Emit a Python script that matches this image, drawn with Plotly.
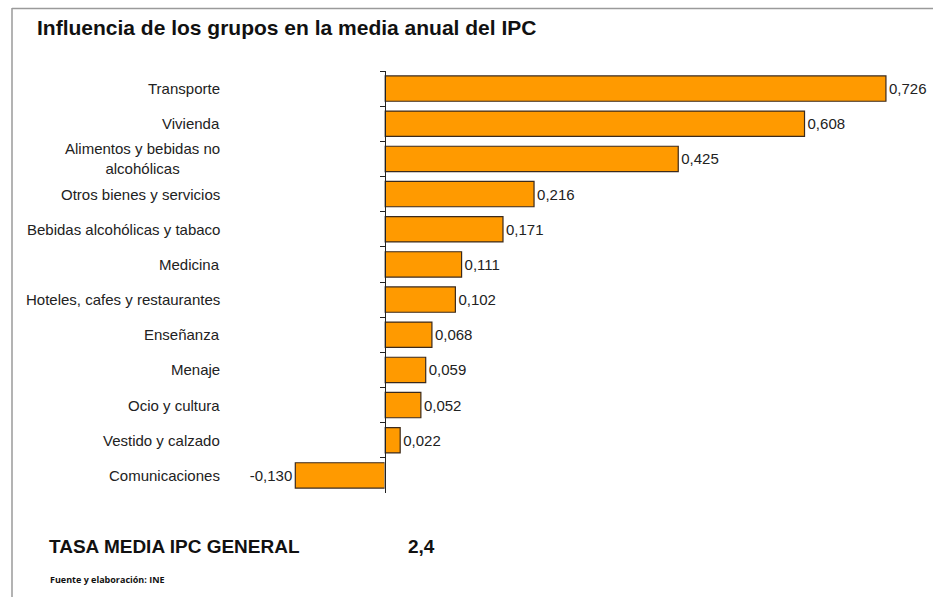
import plotly.graph_objects as go

categories = ["Transporte", "Vivienda", "Alimentos y bebidas no<br>alcohólicas",
              "Otros bienes y servicios", "Bebidas alcohólicas y tabaco", "Medicina",
              "Hoteles, cafes y restaurantes", "Enseñanza", "Menaje", "Ocio y cultura",
              "Vestido y calzado", "Comunicaciones"]
values = [0.726, 0.608, 0.425, 0.216, 0.171, 0.111, 0.102, 0.068, 0.059, 0.052, 0.022, -0.130]
title_text = "Influencia de los grupos en la media anual del IPC"
total_label = "TASA MEDIA IPC GENERAL"
total_value = "2,4"
source_text = "Fuente y elaboración: INE"

labels = [f"{v:.3f}".replace(".", ",") for v in values]

W, H = 933, 597
PL, PR, PT, PB = 230, 925, 71, 493   # plot area in window px
ML, MR, MT, MB = PL, W - PR, PT, H - PB
AXIS_PX = 385
px_per_unit = 690.0
xmin = -(AXIS_PX - PL) / px_per_unit
xmax = (PR - AXIS_PX) / px_per_unit

font_fam = "Liberation Sans, Arial, sans-serif"
orange = "#FF9A00"
edge = "#3b2a1c"


def px2paper_x(px):
    return (px - PL) / (PR - PL)


def py2paper_y(py):
    return (PB - py) / (PB - PT)


fig = go.Figure()
fig.add_trace(go.Bar(
    x=values, y=categories, orientation="h", width=0.72,
    marker=dict(color=orange, line=dict(color=edge, width=1.2)),
    text=labels, textposition="outside", cliponaxis=False,
    textfont=dict(family=font_fam, size=15, color="#222"),
    hoverinfo="skip"))
# invisible trace to drive the zero-axis with ticks
fig.add_trace(go.Bar(x=[0] * len(values), y=categories, orientation="h", yaxis="y2",
                     marker=dict(color="rgba(0,0,0,0)"), hoverinfo="skip", showlegend=False))

annotations = []
for c in categories:
    annotations.append(dict(x=0, xref="paper", y=c, yref="y", text=c, showarrow=False,
                            xanchor="right", align="center", xshift=-8,
                            font=dict(family=font_fam, size=15, color="#222")))

annotations += [
    dict(x=px2paper_x(35), y=py2paper_y(27), xref="paper", yref="paper", text=f"<b>{title_text}</b>",
         showarrow=False, xanchor="left", yanchor="middle",
         font=dict(family=font_fam, size=21, color="#111")),
    dict(x=px2paper_x(47), y=py2paper_y(546), xref="paper", yref="paper", text=f"<b>{total_label}</b>",
         showarrow=False, xanchor="left", yanchor="middle",
         font=dict(family=font_fam, size=19, color="#111")),
    dict(x=px2paper_x(406), y=py2paper_y(546), xref="paper", yref="paper", text=f"<b>{total_value}</b>",
         showarrow=False, xanchor="left", yanchor="middle",
         font=dict(family=font_fam, size=19, color="#111")),
    dict(x=px2paper_x(48), y=py2paper_y(579), xref="paper", yref="paper", text=f"<b>{source_text}</b>",
         showarrow=False, xanchor="left", yanchor="middle",
         font=dict(family="Open Sans, Noto Sans, sans-serif", size=9, color="#111")),
]

shapes = [
    dict(type="line", xref="paper", yref="paper", x0=px2paper_x(12), x1=px2paper_x(12),
         y0=py2paper_y(8), y1=py2paper_y(610), line=dict(color="#9a9a9a", width=1.5)),
    dict(type="line", xref="paper", yref="paper", x0=px2paper_x(12), x1=px2paper_x(950),
         y0=py2paper_y(8.5), y1=py2paper_y(8.5), line=dict(color="#9a9a9a", width=1.5)),
]

fig.update_layout(
    width=W, height=H, margin=dict(l=ML, r=MR, t=MT, b=MB),
    plot_bgcolor="white", paper_bgcolor="white", showlegend=False,
    barmode="overlay",
    xaxis=dict(range=[xmin, xmax], showgrid=False, zeroline=False, showticklabels=False,
               showline=False, ticks=""),
    yaxis=dict(type="category", categoryarray=categories, autorange=False, range=[11.5, -0.5],
               showticklabels=False, showgrid=False, showline=False, ticks=""),
    yaxis2=dict(type="category", categoryarray=categories, autorange=False, range=[11.5, -0.5],
                overlaying="y", anchor="free", side="left", position=px2paper_x(AXIS_PX),
                showticklabels=False, showgrid=False, showline=True, linecolor="#222", linewidth=1.2,
                ticks="outside", tickson="boundaries", ticklen=5, tickcolor="#222", tickwidth=1.2),
    annotations=annotations, shapes=shapes,
)
fig.write_html("out.html", config={"displayModeBar": False},
               post_script="document.body.style.margin='0px';document.body.style.overflow='hidden';")
